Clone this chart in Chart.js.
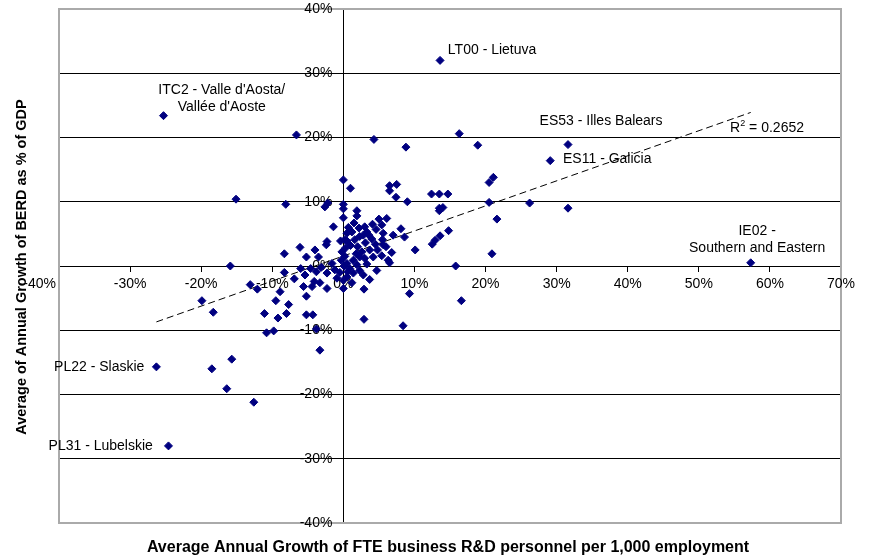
<!DOCTYPE html>
<html>
<head>
<meta charset="utf-8">
<script src="https://cdn.jsdelivr.net/npm/chart.js@4.4.1/dist/chart.umd.min.js"></script>
<style>
  html, body { margin: 0; padding: 0; background: #fff; }
  #wrap { width: 869px; height: 558px; position: relative; }
</style>
</head>
<body>
<div id="wrap"><canvas id="scatterChart"></canvas></div>
<script>
// x: average annual growth of FTE business R&D personnel per 1,000 employment (%)
const personnelGrowth = [
  13.6, -25.3, 31.6, 29.1, 57.3, -26.3, -24.6, -6.6, 4.3, 8.8,
  16.3, 18.9, 0.0, 1.0, 6.5, 7.5, 6.5, 7.4, 9.0, -15.1,
  20.5, 21.1, 12.4, 13.5, 14.7, 20.5, 26.2, 31.6, 13.5, 14.0,
  13.5, 21.6, 14.8, 13.6, 12.9, 12.5, 10.1, 20.9, 15.8, 9.3,
  16.6, 8.4, 8.1, 8.6, -8.1, -2.6, -2.2, 0.0, 0.0, 0.0,
  1.9, 1.9, -1.4, -2.3, -0.4, 0.5, -6.1, -8.3, -4.0, -2.4,
  -5.2, -3.5, -8.3, -6.9, -6.0, -5.4, -4.6, -3.8, -3.1, -2.3,
  -1.2, -1.6, -4.1, -3.3, -5.6, -4.4, -2.3, -5.2, -9.5, -7.7,
  -11.1, -8.0, -5.2, -4.3, -9.2, -0.9, -15.9, -13.1, -12.1, -8.9,
  -19.9, -18.3, -10.8, -9.8, -3.3, 0.0, 2.9, 3.7, 4.7, 3.3,
  2.9, -18.5, -15.7, -16.4, -12.6, -3.8, 0.7, 0.5, 1.2, 3.0,
  3.3, 2.8, 4.1, 5.0, 6.1, 5.4, 5.6, 5.5, 3.6, 4.0,
  2.3, 1.6, 0.2, 6.8, 6.5, 5.4, 2.3, 1.4, 0.5, 0.0,
  4.2, 4.8, 5.6, 3.7, 2.3, 1.4, 0.5, 0.9, 6.3, 0.3,
  1.0, 2.0, 2.6, 1.8, 3.0, 0.2, -0.3, 0.6, 1.9, 2.8,
  1.2, -0.5, -0.2, 4.5, 3.1, 1.5, 2.2, 4.6, 7.0, 6.0,
  0.1
];

// y: average of annual growth of BERD as % of GDP (%)
const berdGrowth = [
  32.0, 23.4, 18.9, 16.4, 0.5, -15.7, -28.0, 20.4, 19.7, 18.5,
  20.6, 18.8, 13.4, 12.1, 12.5, 12.7, 11.7, 10.7, 10.0, 10.4,
  13.0, 13.8, 11.2, 11.2, 11.2, 9.9, 9.8, 9.0, 9.0, 9.1,
  8.6, 7.3, 5.5, 4.7, 4.0, 3.4, 2.5, 1.9, 0.0, -4.3,
  -5.4, -9.3, 5.8, 4.5, 9.6, 9.2, 9.8, 9.6, 8.9, 7.5,
  8.6, 7.8, 6.1, 3.8, 3.9, 3.9, 2.9, 1.9, 2.5, 3.3,
  1.4, 1.4, -1.0, -2.0, -0.4, -1.4, -0.4, -0.9, -0.2, -1.1,
  -0.6, 0.4, -2.4, -2.6, -3.2, -3.2, -3.5, -4.7, -5.4, -6.0,
  -7.4, -7.4, -7.6, -7.6, -8.1, -1.9, 0.0, -2.9, -3.6, -4.0,
  -5.4, -7.2, -10.4, -10.1, -13.1, -3.5, -8.3, -2.1, -0.7, 0.3,
  -3.6, -16.0, -14.5, -19.1, -21.2, -9.8, 6.0, 5.1, 5.3, 6.1,
  5.3, 4.8, 6.5, 7.3, 7.4, 6.4, 5.1, 4.1, 4.8, 4.2,
  4.6, 4.1, 4.1, 2.1, 0.5, 1.6, -0.7, -1.1, -1.7, -2.2,
  1.4, 2.5, 3.3, 2.5, 1.4, 0.9, 0.4, -0.4, 0.9, 2.8,
  3.2, 3.0, 2.2, 1.9, 1.2, 1.5, 0.9, -0.9, 0.2, -1.4,
  -2.6, -1.0, 2.2, 3.4, 3.6, 6.7, 5.9, 5.7, 4.8, 3.0,
  0.0
];

// linear trend line (end points)
const trendX = [-26.3, 57.3];
const trendY = [-8.7, 23.9];
const rSquaredText = "0.2652";

// tick values
const xTickValues = [-40, -30, -20, -10, 0, 10, 20, 30, 40, 50, 60, 70];
const yTickValues = [-40, -30, -20, -10, 0, 10, 20, 30, 40];

// point labels, anchored in data units
const regionLabels = [
  { lines: ["LT00 - Lietuva"], x: 14.7, y: 33.6, align: "left" },
  { lines: ["ITC2 - Valle d'Aosta/", "Vallée d'Aoste"], x: -17.1, y: 27.3, align: "center" },
  { lines: ["ES53 - Illes Balears"], x: 27.6, y: 22.5, align: "left" },
  { lines: ["ES11 - Galicia"], x: 30.9, y: 16.6, align: "left" },
  { lines: ["IE02 -", "Southern and Eastern"], x: 58.2, y: 5.4, align: "center" },
  { lines: ["PL22 - Slaskie"], x: -28.0, y: -15.7, align: "right" },
  { lines: ["PL31 - Lubelskie"], x: -26.8, y: -28.0, align: "right" },
];

const FONT = "'Liberation Sans', Arial, sans-serif";

const points = personnelGrowth.map((x, i) => ({ x: x, y: berdGrowth[i] }));
const trend = trendX.map((x, i) => ({ x: x, y: trendY[i] }));

const pct = (v) => v + "%";

const annotationsPlugin = {
  id: "annotations",
  // frame and tick labels sit under the markers, axes cross at zero
  beforeDatasetsDraw(chart) {
    const { ctx, chartArea, scales } = chart;
    const sx = scales.x;
    const sy = scales.y;
    const x0 = sx.getPixelForValue(0);
    const y0 = sy.getPixelForValue(0);
    ctx.save();

    ctx.strokeStyle = "#aaaaaa";
    ctx.lineWidth = 2;
    ctx.strokeRect(chartArea.left, chartArea.top, chartArea.right - chartArea.left, chartArea.bottom - chartArea.top);

    ctx.fillStyle = "#000";
    ctx.font = "14px " + FONT;
    ctx.textBaseline = "middle";
    ctx.textAlign = "right";
    sy.ticks.forEach((t) => {
      ctx.fillText(pct(t.value), x0 - 11, sy.getPixelForValue(t.value));
    });
    sx.ticks.forEach((t, i) => {
      const px = sx.getPixelForValue(t.value);
      if (i === 0) {
        ctx.textAlign = "right";
        ctx.fillText(pct(t.value), px - 3, y0 + 18);
      } else {
        ctx.textAlign = "center";
        ctx.fillText(pct(t.value), px, y0 + 18);
      }
    });
    ctx.restore();
  },
  afterDatasetsDraw(chart) {
    const { ctx, scales } = chart;
    const sx = scales.x;
    const sy = scales.y;
    ctx.save();

    // region labels
    ctx.fillStyle = "#000";
    ctx.font = "14px " + FONT;
    ctx.textBaseline = "middle";
    regionLabels.forEach((lab) => {
      ctx.textAlign = lab.align;
      const px = sx.getPixelForValue(lab.x);
      const py = sy.getPixelForValue(lab.y);
      lab.lines.forEach((line, i) => ctx.fillText(line, px, py + i * 16.5));
    });

    // R squared
    ctx.textAlign = "left";
    const rx = sx.getPixelForValue(54.4);
    const ry = sy.getPixelForValue(21.4);
    ctx.fillText("R", rx, ry);
    const rw = ctx.measureText("R").width;
    ctx.font = "9px " + FONT;
    ctx.fillText("2", rx + rw, ry - 5);
    const sw = ctx.measureText("2").width;
    ctx.font = "14px " + FONT;
    ctx.fillText(" = " + rSquaredText, rx + rw + sw, ry);

    // axis titles
    ctx.textAlign = "center";
    ctx.font = "bold 16px " + FONT;
    ctx.fillText("Average Annual Growth of FTE business R&D personnel per 1,000 employment", 448, 548);
    ctx.font = "bold 14.5px " + FONT;
    ctx.translate(22, 267);
    ctx.rotate(-Math.PI / 2);
    ctx.fillText("Average of Annual Growth of BERD as % of GDP", 0, 0);
    ctx.restore();
  },
};

const chart = new Chart(document.getElementById("scatterChart"), {
  type: "scatter",
  data: {
    datasets: [
      {
        label: "Regions",
        data: points,
        pointStyle: "rectRot",
        pointRadius: 4,
        pointHoverRadius: 4,
        backgroundColor: "#000080",
        borderColor: "#000080",
        borderWidth: 1,
      },
      {
        label: "Trend",
        type: "line",
        data: trend,
        borderColor: "#000",
        borderWidth: 1,
        borderDash: [7, 4],
        pointRadius: 0,
        fill: false,
      },
    ],
  },
  options: {
    responsive: true,
    maintainAspectRatio: false,
    animation: false,
    events: [],
    layout: { padding: { left: 59, right: 28, top: 9, bottom: 35 } },
    plugins: { legend: { display: false }, tooltip: { enabled: false } },
    scales: {
      x: {
        type: "linear",
        min: -40,
        max: 70,
        position: { y: 0 },
        afterBuildTicks: (axis) => { axis.ticks = xTickValues.map((v) => ({ value: v })); },
        ticks: { display: false },
        grid: { drawOnChartArea: false, drawTicks: true, tickLength: 5, color: "#000" },
        border: { color: "#000", width: 1 },
      },
      y: {
        type: "linear",
        min: -40,
        max: 40,
        position: { x: 0 },
        afterBuildTicks: (axis) => { axis.ticks = yTickValues.map((v) => ({ value: v })); },
        ticks: { display: false },
        grid: {
          color: (c) => (c.tick && Math.abs(c.tick.value) === 40 ? "rgba(0,0,0,0)" : "#000"),
          tickLength: 5,
          lineWidth: 1,
        },
        border: { color: "#000", width: 1 },
      },
    },
  },
  plugins: [annotationsPlugin],
});
</script>
</body>
</html>
